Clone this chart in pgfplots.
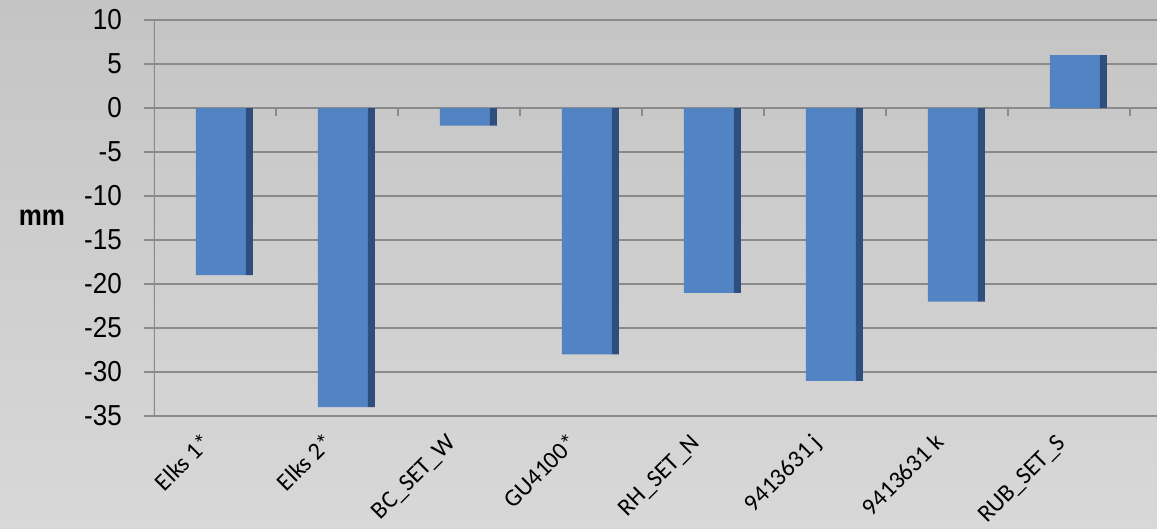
\documentclass[border=0pt]{standalone}
\usepackage{fontspec}
\setmainfont{Carlito}
\newfontfamily\axisfont[FakeStretch=0.9]{Liberation Sans}
\usepackage{pgfplots}
\pgfplotsset{compat=1.18}

\definecolor{barface}{HTML}{5284C4}
\definecolor{barside}{HTML}{2E4E7E}
\definecolor{gridgray}{HTML}{8A8A8A}
\definecolor{bgtop}{HTML}{C4C4C4}
\definecolor{bgbottom}{HTML}{D8D8D8}

% settlement per station, mm
\pgfplotstableread{
idx value
0 -19
1 -34
2 -2
3 -28
4 -21
5 -31
6 -22
7 6
}\settlement

\begin{document}
\begin{tikzpicture}
\path[use as bounding box] (-154bp,-113bp) rectangle (1003bp,416bp);
\shade[top color=bgtop, bottom color=bgbottom] (-154bp,-113bp) rectangle (1003bp,416bp);
\begin{axis}[
  scale only axis,
  width=1000.4bp, height=396bp,
  xmin=-0.5, xmax=7.7,
  ymin=-35, ymax=10,
  ytick={-35,-30,...,10},
  xtick={0,...,7},
  xticklabels={Elks 1*, Elks 2*, BC\_SET\_W, GU4100*, RH\_SET\_N, 9413631 j, 9413631 k, RUB\_SET\_S},
  axis line style={draw=none},
  ymajorgrids,
  grid style={gridgray, line width=2.4bp},
  tick align=outside,
  major tick length=10bp,
  xtick style={draw=none},
  ytick style={gridgray, line width=2bp},
  /pgf/number format/assume math mode=true,
  yticklabel style={font=\axisfont\fontsize{29}{29}\selectfont, anchor=east, inner sep=0pt, xshift=-22bp},
  xticklabel style={font=\fontsize{24.5}{24.5}\selectfont, xshift=-2bp, yshift=-18bp, rotate=45, anchor=base east, inner sep=0pt},
  ylabel={mm},
  every axis y label/.style={at={(axis description cs:0,0.5)}, anchor=center, xshift=-112bp,
    font=\axisfont\bfseries\fontsize{29}{29}\selectfont},
]
% front faces of the bars
\addplot[ybar, fill=barface, draw=none, bar width=50bp, bar shift=6bp]
  table[x=idx, y=value] {\settlement};
% shaded side faces
\addplot[ybar, fill=barside, draw=none, bar width=7bp, bar shift=34.5bp]
  table[x=idx, y=value] {\settlement};
% category ticks on the zero line
\pgfplotsinvokeforeach{0.5,1.5,2.5,3.5,4.5,5.5,6.5,7.5}{
  \draw[gridgray, line width=2bp] (axis cs:#1,0) -- ++(0pt,-8bp);
}
% vertical axis line
\draw[gridgray, line width=3bp] (rel axis cs:0,0) -- (rel axis cs:0,1);
\end{axis}
\end{tikzpicture}
\end{document}
